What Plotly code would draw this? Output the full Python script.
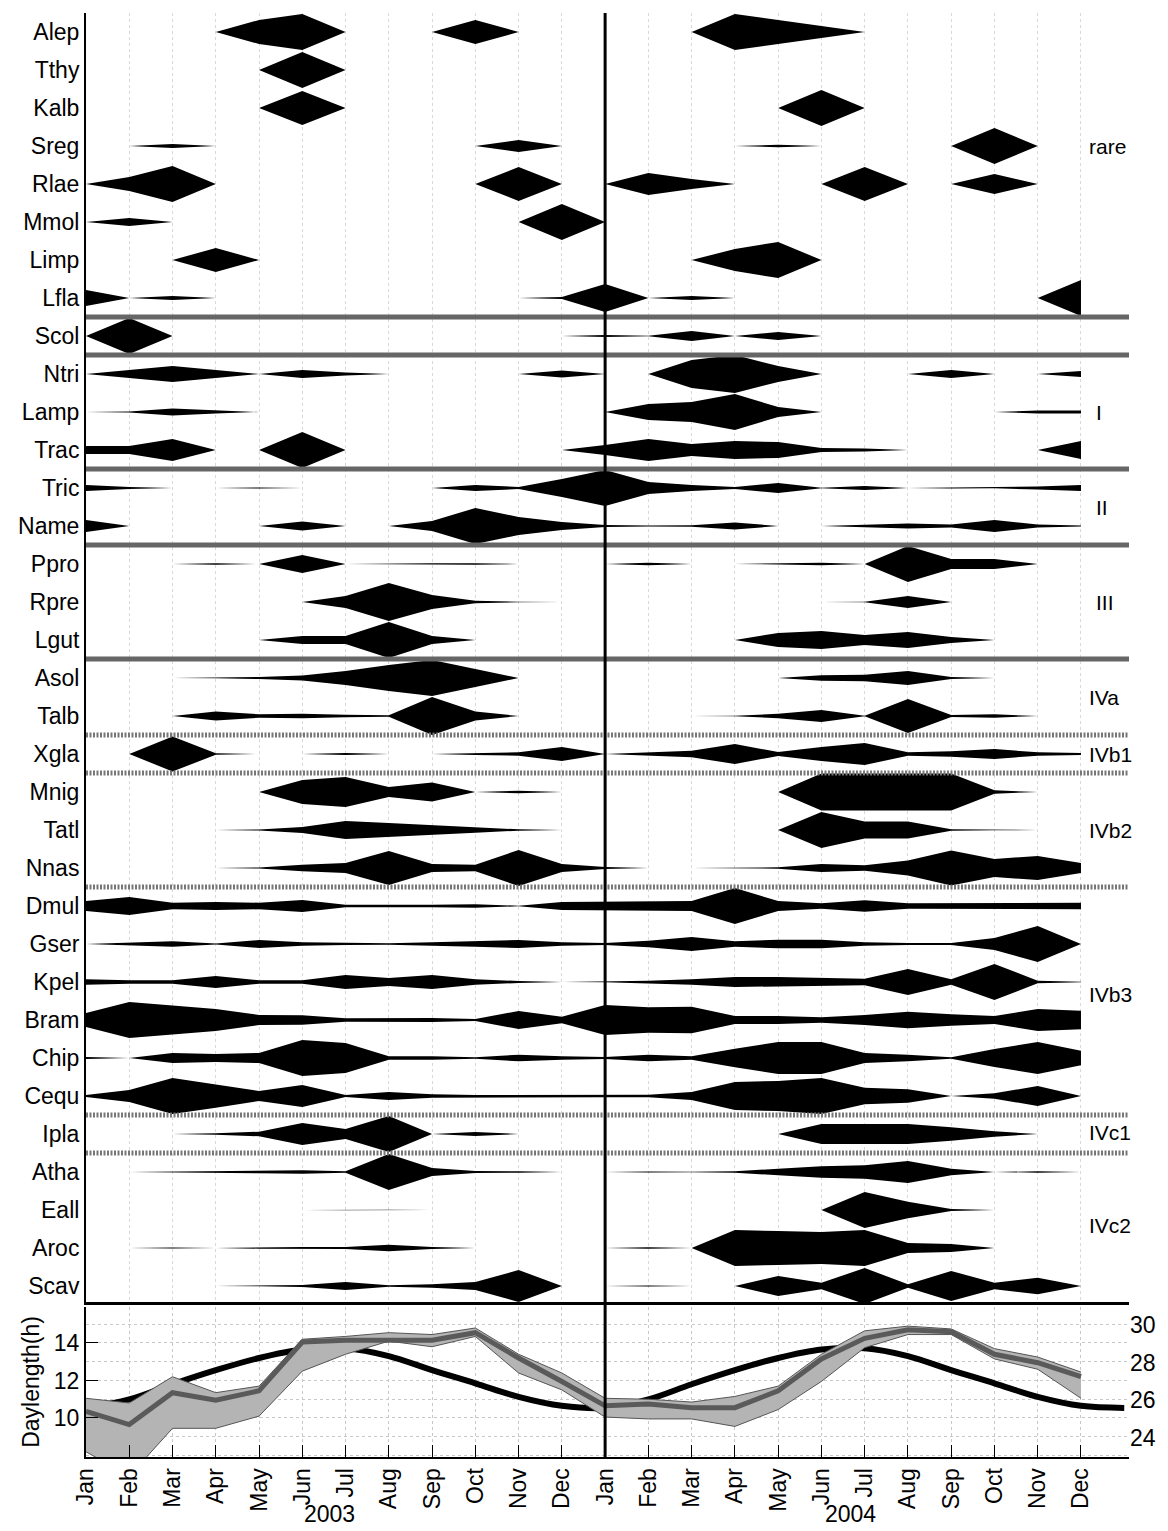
import plotly.graph_objects as go

# ---------------- data ----------------
month_names = ["Jan", "Feb", "Mar", "Apr", "May", "Jun", "Jul", "Aug", "Sep", "Oct", "Nov", "Dec"]
month_labels = month_names + month_names
months = list(range(24))          # Jan 2003 ... Dec 2004
years = ["2003", "2004"]

species = ["Alep", "Tthy", "Kalb", "Sreg", "Rlae", "Mmol", "Limp", "Lfla", "Scol", "Ntri", "Lamp",
           "Trac", "Tric", "Name", "Ppro", "Rpre", "Lgut", "Asol", "Talb", "Xgla", "Mnig", "Tatl",
           "Nnas", "Dmul", "Gser", "Kpel", "Bram", "Chip", "Cequ", "Ipla", "Atha", "Eall", "Aroc", "Scav"]

# monthly abundance index (kite half-width), Jan 2003 .. Dec 2004
alep = [0, 0, 0, 0, 12, 18, 0, 0, 0, 12, 0, 0, 0, 0, 0, 18, 12, 6, 0, 0, 0, 0, 0, 0]
tthy = [0, 0, 0, 0, 0, 18, 0, 0, 0, 0, 0, 0, 0, 0, 0, 0, 0, 0, 0, 0, 0, 0, 0, 0]
kalb = [0, 0, 0, 0, 0, 17, 0, 0, 0, 0, 0, 0, 0, 0, 0, 0, 0, 18, 0, 0, 0, 0, 0, 0]
sreg = [0, 0, 2, 0, 0, 0, 0, 0, 0, 0, 6, 0, 0, 0, 0, 0, 1.2, 0, 0, 0, 0, 18, 0, 0]
rlae = [0, 7, 18, 0, 0, 0, 0, 0, 0, 0, 17, 0, 0, 11, 5, 0, 0, 0, 17, 0, 0, 10, 0, 0]
mmol = [0, 4, 0, 0, 0, 0, 0, 0, 0, 0, 0, 18, 0, 0, 0, 0, 0, 0, 0, 0, 0, 0, 0, 0]
limp = [0, 0, 0, 12, 0, 0, 0, 0, 0, 0, 0, 0, 0, 0, 0, 11, 18, 0, 0, 0, 0, 0, 0, 0]
lfla = [8, 0, 2, 0, 0, 0, 0, 0, 0, 0, 0, 1, 14, 0, 2, 0, 0, 0, 0, 0, 0, 0, 0, 18]
scol = [0, 18, 0, 0, 0, 0, 0, 0, 0, 0, 0, 0, 1, 0.3, 5, 0, 4, 0, 0, 0, 0, 0, 0, 0]
ntri = [0, 4, 8, 4, 0, 4, 1.5, 0, 0, 0, 0, 3.5, 0, 0, 14, 19, 8, 0, 0, 0, 4, 0, 0, 3]
lamp = [0, 0.5, 3.5, 1.5, 0, 0, 0, 0, 0, 0, 0, 0, 0, 8, 10, 18, 5, 0, 0.3, 0, 0, 0, 1.5, 1.5]
trac = [4, 4, 11, 0, 0, 18, 0, 0, 0, 0, 0, 0, 5, 11, 6, 9, 8, 2, 1.5, 0, 0, 0, 0, 9]
tric = [3, 1, 0, 0, 0.5, 0, 0, 0, 0, 3, 1, 9, 18, 6, 3, 1, 5, 0.3, 2, 0, 0.5, 0.3, 1.5, 3]
name = [6, 0, 0.3, 0, 0, 4.5, 0, 0, 5, 18, 9, 4, 1, 0.5, 0.7, 3.5, 0, 0, 1.5, 2.5, 1.5, 6, 1.5, 0.5]
ppro = [0, 0, 0, 0.7, 0, 9, 0, 0.5, 0.7, 0.7, 0, 0, 0, 1.3, 0, 0, 0.5, 1.3, 0, 18, 5, 5, 0, 0]
rpre = [0, 0, 0, 0, 0, 0, 6, 19, 7, 1.3, 0.2, 0, 0, 0, 0, 0, 0, 0, 0.3, 6, 0, 0.2, 0, 0]
lgut = [0, 0, 0, 0, 0, 4, 4, 18, 4, 0, 0, 0, 0, 0, 0, 0, 7, 9, 5, 8, 3, 0, 0, 0]
asol = [0, 0, 0, 0.3, 1, 2.5, 7, 13, 18, 9, 0, 0, 0, 0, 0, 0, 0, 2.7, 3.3, 7, 1, 0, 0, 0]
talb = [0, 0, 0, 4.5, 1.7, 2.3, 1.3, 0.7, 19, 4.5, 0, 0, 0, 0, 0, 0.2, 2.3, 6, 0.3, 17, 1, 1.7, 0, 0]
xgla = [0, 0, 17.5, 0.8, 0, 0, 1, 0, 0, 1, 1.7, 7, 0, 1.3, 3.3, 10, 2, 7, 11, 1.7, 2.7, 5, 1.7, 1]
mnig = [0, 0, 0, 0, 0, 12, 15, 5, 9.5, 0, 1.3, 0, 0, 0, 0, 0, 0, 18.5, 18.5, 18.5, 18.5, 1.7, 0, 0]
tatl = [0, 0, 0, 0, 0.5, 3, 9, 7, 5, 2.7, 0.7, 0, 0, 0, 0, 0, 0, 18, 8.5, 8.5, 0.7, 0.3, 0, 0]
nnas = [0.2, 0, 0, 0, 0.5, 3.3, 5, 17, 4, 3.3, 18, 4, 1, 0, 0, 0.2, 0.7, 4, 2.7, 7.5, 17.5, 9, 12, 5]
dmul = [5, 9, 3.3, 4, 3.3, 6, 1.3, 1, 1.3, 1.7, 0.3, 4, 4.5, 4.5, 5, 18, 5, 2.7, 5.7, 2.7, 2.7, 2.7, 3.3, 3.3]
gser = [0, 1, 2.7, 0.5, 4, 1.7, 1, 0.7, 1.7, 2.7, 4, 1.7, 1, 3.3, 7, 2.7, 4.3, 4.3, 1.7, 1, 1, 6, 18, 0]
kpel = [2.7, 1.7, 1.7, 6, 1.7, 1.7, 7, 4, 7, 2.7, 1, 0, 0.3, 1.3, 2.7, 5, 5, 4, 3.3, 13, 2.7, 18, 1.3, 0.3]
bram = [7, 18, 14.5, 11, 5, 4.7, 1.7, 1.7, 2, 1, 9, 3.3, 15, 12.7, 13.3, 4, 4, 2.7, 5, 8.3, 5.7, 4, 11, 9.3]
chip = [1, 0, 5, 4, 5, 18, 15, 1.7, 1.7, 0.7, 3.3, 1.7, 1, 3.3, 1.7, 9.3, 16, 16, 5, 3.3, 0.7, 9, 16, 7.3]
cequ = [1, 6, 18, 11.7, 5, 11, 1, 4, 1.7, 1, 1, 1.3, 1.3, 1.3, 4, 14, 15, 18, 8.3, 6.7, 0, 2.7, 10, 0]
ipla = [0, 0, 0, 0.7, 2.3, 11, 5, 18, 0, 2, 0, 0, 0, 0, 0, 0, 0, 10, 10, 10, 6.7, 2.7, 0, 0]
atha = [0, 0, 0.3, 1, 1.3, 1.7, 0.7, 18, 4, 1, 0.7, 0, 0, 0.5, 0.2, 0.7, 3.3, 5.7, 6.7, 11, 3.3, 0, 0.7, 0]
eall = [0, 0, 0, 0, 0, 0, 0.3, 0.3, 0, 0, 0.3, 0, 0, 0, 0, 0, 0, 0, 18, 8.3, 1, 0, 0, 0]
aroc = [0, 0, 0.5, 0, 0.7, 1, 1, 3.3, 1, 0, 0, 0, 0, 0.8, 0, 18, 17, 16, 18, 5, 4, 0, 0, 0]
scav = [0, 0, 0, 0, 0.3, 1, 4, 0.7, 1.7, 4, 16, 0, 0, 0.5, 0, 0, 10, 3.3, 18, 1.7, 15, 3.3, 8.3, 0]

abundance = [alep, tthy, kalb, sreg, rlae, mmol, limp, lfla, scol, ntri, lamp, trac, tric, name,
             ppro, rpre, lgut, asol, talb, xgla, mnig, tatl, nnas, dmul, gser, kpel, bram, chip,
             cequ, ipla, atha, eall, aroc, scav]

group_labels = ["rare", "I", "II", "III", "IVa", "IVb1", "IVb2", "IVb3", "IVc1", "IVc2"]
group_rows = [31, 24, 21.5, 19, 16.5, 15, 13, 8.66, 5.03, 2.6]
solid_breaks = [26.5, 25.5, 22.5, 20.5, 17.5]
dotted_breaks = [15.5, 14.5, 11.5, 5.5, 4.5]

# bottom panel: daylength (h, left axis) and temperature (right axis)
day_months = list(range(25))
daylength = [10.54, 10.99, 11.8, 12.55, 13.2, 13.65, 13.72, 13.3, 12.55, 11.85, 11.13, 10.65,
             10.54, 10.99, 11.8, 12.55, 13.2, 13.65, 13.72, 13.3, 12.55, 11.85, 11.13, 10.65, 10.54]
temp_mean = [25.4, 24.7, 26.4, 26.0, 26.5, 29.1, 29.2, 29.2, 29.2, 29.6, 28.25, 27.0,
             25.7, 25.8, 25.6, 25.6, 26.5, 28.2, 29.3, 29.75, 29.65, 28.45, 28.0, 27.25]
temp_high = [26.1, 25.85, 27.25, 26.4, 26.75, 29.25, 29.4, 29.6, 29.5, 29.85, 28.45, 27.45,
             26.1, 26.05, 25.9, 26.2, 26.75, 28.45, 29.7, 29.95, 29.8, 28.75, 28.3, 27.5]
temp_low = [23.25, 21.95, 24.5, 24.5, 25.15, 27.55, 28.45, 29.15, 28.85, 29.4, 27.45, 26.55,
            25.1, 25.0, 25.0, 24.6, 25.5, 27.0, 28.8, 29.5, 29.5, 28.2, 27.65, 26.1]

# ---------------- style ----------------
FONT = "Liberation Sans, Arial, sans-serif"
FS = 23
KITE_SCALE = 1 / 38.0
XMAX = 24.11
n = len(species)


def kite_polygons(vals, c):
    """Split a series into separate kite polygons for each run of non-zero values."""
    xs, ys = [], []
    N = len(vals)
    i = 0
    while i < N:
        if vals[i] > 0:
            j = i
            while j + 1 < N and vals[j + 1] > 0:
                j += 1
            lo = max(i - 1, 0)
            hi = min(j + 1, N - 1)
            idx = list(range(lo, hi + 1))
            px = [months[k] for k in idx]
            top = [c + vals[k] * KITE_SCALE for k in idx]
            bot = [c - vals[k] * KITE_SCALE for k in idx]
            xs += px + px[::-1] + [px[0], None]
            ys += top + bot[::-1] + [top[0], None]
            i = j + 1
        else:
            i += 1
    return xs, ys


fig = go.Figure()

for i, (sp, vals) in enumerate(zip(species, abundance)):
    c = n - i
    xs, ys = kite_polygons(vals, c)
    fig.add_trace(go.Scatter(
        x=xs, y=ys, fill="toself", fillcolor="black",
        line=dict(width=0, color="black"), mode="lines",
        xaxis="x", yaxis="y", showlegend=False, hoverinfo="skip"))

# bottom panel
fig.add_trace(go.Scatter(x=months, y=temp_low, mode="lines", line=dict(color="#555", width=1),
                         xaxis="x2", yaxis="y3", showlegend=False))
fig.add_trace(go.Scatter(x=months, y=temp_high, mode="lines", line=dict(color="#555", width=1),
                         fill="tonexty", fillcolor="#b4b4b4",
                         xaxis="x2", yaxis="y3", showlegend=False))
fig.add_trace(go.Scatter(x=months, y=temp_mean, mode="lines", line=dict(color="#5a5a5a", width=5),
                         xaxis="x2", yaxis="y3", showlegend=False))
fig.add_trace(go.Scatter(x=day_months, y=daylength, mode="lines",
                         line=dict(color="black", width=6, shape="spline", smoothing=1.0),
                         xaxis="x2", yaxis="y2", showlegend=False))

shapes = []
for b in solid_breaks:
    shapes.append(dict(type="line", xref="x domain", yref="y", x0=0, x1=1, y0=b, y1=b,
                       line=dict(color="#666", width=5)))
for b in dotted_breaks:
    shapes.append(dict(type="line", xref="x domain", yref="y", x0=0, x1=1, y0=b, y1=b,
                       line=dict(color="#777", width=5, dash="2px,1.5px")))
shapes.append(dict(type="line", xref="x domain", yref="y", x0=0, x1=1, y0=0.5, y1=0.5,
                   line=dict(color="black", width=6)))
shapes.append(dict(type="line", xref="x", yref="paper", x0=12, x1=12, y0=0, y1=1,
                   line=dict(color="black", width=3)))

annotations = []
for lab, r in zip(group_labels, group_rows):
    xpos = 23.3 if lab in ("I", "II", "III") else 23.15
    annotations.append(dict(text=lab, x=xpos, y=r, xref="x", yref="y", showarrow=False,
                            xanchor="left", yanchor="middle", font=dict(size=21, color="black", family=FONT)))
for yr, xp in zip(years, [5.63, 17.67]):
    annotations.append(dict(text=yr, x=xp, y=-0.0395, xref="x2", yref="paper", showarrow=False,
                            xanchor="center", yanchor="middle", font=dict(size=FS, color="black", family=FONT)))

fig.update_layout(
    width=1168, height=1531,
    margin=dict(l=86, r=33, t=13, b=74),
    paper_bgcolor="white", plot_bgcolor="white",
    font=dict(family=FONT, size=FS, color="black"),
    showlegend=False,
    shapes=shapes, annotations=annotations,
    xaxis=dict(domain=[0, 1], range=[0, XMAX], anchor="y", showticklabels=False,
               tickvals=months, ticks="", showgrid=True, gridcolor="#d8d8d8", griddash="dot",
               gridwidth=1, zeroline=False, showline=False),
    yaxis=dict(domain=[0.10526, 1], range=[0.5, 34.5], anchor="x",
               tickvals=[n - i for i in range(n)], ticktext=species, ticks="",
               showgrid=False, zeroline=False, showline=True, linecolor="black", linewidth=2,
               tickfont=dict(size=FS)),
    xaxis2=dict(domain=[0, 1], range=[0, XMAX], anchor="y2", tickvals=months, ticktext=month_labels,
                tickangle=-90, ticks="inside", ticklen=12, tickcolor="black", tickwidth=1,
                showgrid=True, gridcolor="#c8c8c8", griddash="dot", gridwidth=1,
                zeroline=False, showline=True, linecolor="black", linewidth=2, tickfont=dict(size=FS)),
    yaxis2=dict(domain=[0, 0.10388], range=[7.92, 15.92], anchor="x2",
                tickvals=[10, 12, 14], ticks="inside", ticklen=12, tickcolor="black",
                showgrid=True, gridcolor="#c8c8c8", griddash="dot",
                minor=dict(dtick=1, tick0=8, showgrid=True, gridcolor="#c8c8c8", griddash="dot", ticks=""),
                zeroline=False, showline=True, linecolor="black", linewidth=2,
                title=dict(text="Daylength(h)", font=dict(size=FS), standoff=8),
                tickfont=dict(size=FS)),
    yaxis3=dict(overlaying="y2", side="right", anchor="x2", range=[22.97, 30.97],
                tickvals=[24, 26, 28, 30], ticks="", showgrid=False, zeroline=False,
                showline=False, tickfont=dict(size=FS)),
)

fig.write_html("out.html")
